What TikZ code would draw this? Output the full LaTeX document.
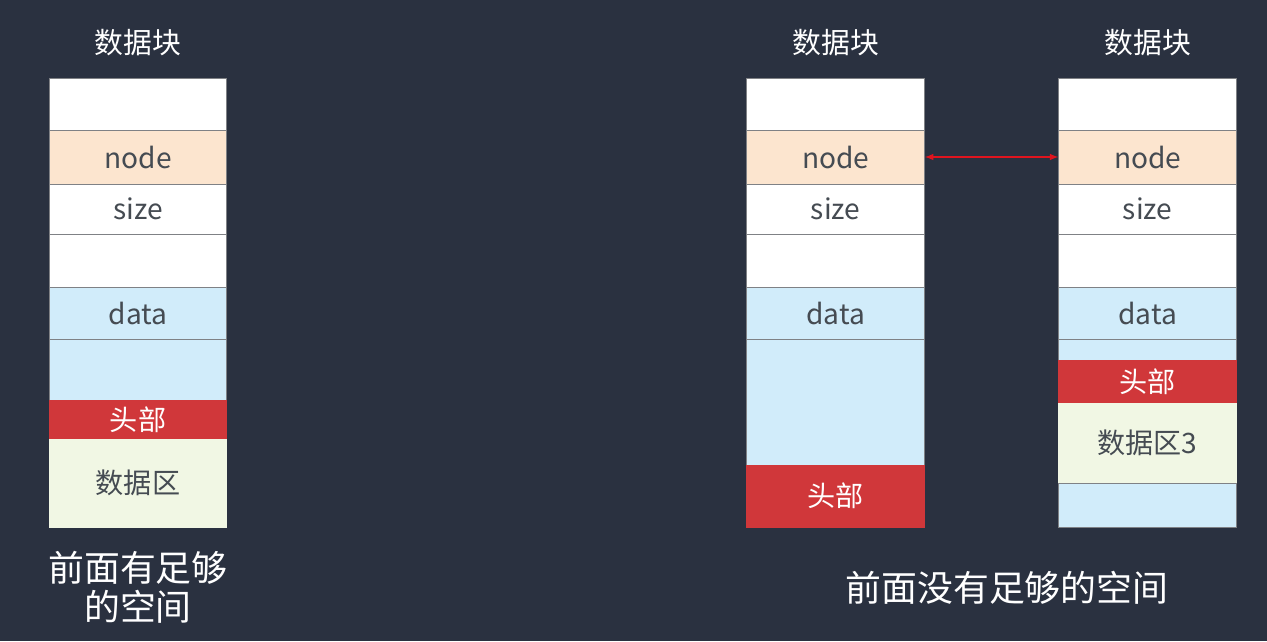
\documentclass[tikz,border=0pt]{standalone}
\usepackage{fontspec}
\setmainfont{Noto Sans CJK SC}
\usepackage{xcolor}
\usepackage{tikz}
\usetikzlibrary{positioning, arrows}
\definecolor{bgnavy}{HTML}{2A3140}
\definecolor{peach}{HTML}{FCE5CF}
\definecolor{skyblue}{HTML}{D1ECFA}
\definecolor{palegreen}{HTML}{F1F7E4}
\definecolor{headred}{HTML}{D0373A}
\definecolor{arrowred}{HTML}{E0141E}
\definecolor{cellgray}{HTML}{7F8185}
\definecolor{textgray}{HTML}{454B52}

\begin{document}
\begin{tikzpicture}[
    cell/.style={draw=cellgray, line width=0.6pt, fill=white, minimum width=4.44cm, inner sep=0pt, text=textgray, font=\fontsize{20}{24}\selectfont},
    head/.style={cell, fill=headred, draw=headred, text=white},
    title/.style={text=white, font=\fontsize{20.5}{24}\selectfont},
    note/.style={text=white, align=center, font=\fontsize{25.5}{27.7}\selectfont}
  ]
            \fill[bgnavy] (0,0) rectangle (31.675,-16.025);
            % left block
            \node[cell, minimum height=1.3cm] (l1) at (3.45,-2.6) {};
            \node[cell, fill=peach, minimum height=1.35cm, below=-0.6pt of l1] (l2) {node};
            \node[cell, minimum height=1.25cm, below=-0.6pt of l2] (l3) {size};
            \node[cell, minimum height=1.325cm, below=-0.6pt of l3] (l4) {};
            \node[cell, fill=skyblue, minimum height=1.3cm, below=-0.6pt of l4] (l5) {data};
            \node[cell, fill=skyblue, minimum height=1.525cm, below=-0.6pt of l5] (l6) {};
            \node[head, minimum height=0.975cm, below=-0.6pt of l6] (l7) {头部};
            \node[cell, fill=palegreen, draw=palegreen, minimum height=2.2cm, below=-0.6pt of l7] (l8) {数据区};
            \node[title, above=0.42cm of l1] (ltitle) {数据块};
            \node[note] (lnote) at (3.45,-14.69) {前面有足够\\的空间};
            % middle block
            \node[cell, minimum height=1.3cm] (m1) at (20.89,-2.6) {};
            \node[cell, fill=peach, minimum height=1.35cm, below=-0.6pt of m1] (m2) {node};
            \node[cell, minimum height=1.25cm, below=-0.6pt of m2] (m3) {size};
            \node[cell, minimum height=1.325cm, below=-0.6pt of m3] (m4) {};
            \node[cell, fill=skyblue, minimum height=1.3cm, below=-0.6pt of m4] (m5) {data};
            \node[cell, fill=skyblue, minimum height=3.15cm, below=-0.6pt of m5] (m6) {};
            \node[head, minimum height=1.55cm, below=-0.6pt of m6] (m7) {头部};
            \node[title, above=0.42cm of m1] (mtitle) {数据块};
            % right block
            \node[cell, minimum height=1.3cm] (r1) at (28.69,-2.6) {};
            \node[cell, fill=peach, minimum height=1.35cm, below=-0.6pt of r1] (r2) {node};
            \node[cell, minimum height=1.25cm, below=-0.6pt of r2] (r3) {size};
            \node[cell, minimum height=1.325cm, below=-0.6pt of r3] (r4) {};
            \node[cell, fill=skyblue, minimum height=1.3cm, below=-0.6pt of r4] (r5) {data};
            \node[cell, fill=skyblue, minimum height=0.525cm, below=-0.6pt of r5] (r6) {};
            \node[head, minimum height=1.075cm, below=-0.6pt of r6] (r7) {头部};
            \node[cell, fill=palegreen, draw=palegreen, minimum height=2.0cm, below=-0.6pt of r7] (r8) {数据区3};
            \node[cell, fill=skyblue, minimum height=1.1cm, below=-0.6pt of r8] (r9) {};
            \node[title, above=0.42cm of r1] (rtitle) {数据块};
            \draw[arrowred, <->, >=latex, line width=1.1pt] (m2.east) -- (r2.west);
            \node[note] (rnote) at (25.175,-14.7) {前面没有足够的空间};
\end{tikzpicture}
\end{document}
